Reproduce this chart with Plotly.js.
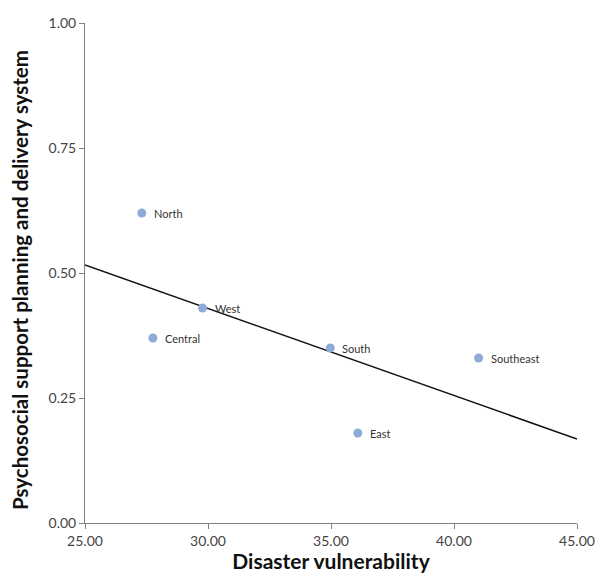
<!DOCTYPE html>
<html>
<head>
<meta charset="utf-8">
<script src="https://cdn.plot.ly/plotly-3.0.1.min.js"></script>
<style>html,body{margin:0;padding:0;background:#fff;}#chart{width:597px;height:573px;}</style>
</head>
<body>
<div id="chart"></div>
<script>
// Data
var regions = ["North", "West", "Central", "South", "Southeast", "East"];
var vulnerability = [27.31, 29.78, 27.76, 34.97, 41.00, 36.09];
var psychosocial = [0.62, 0.43, 0.37, 0.35, 0.33, 0.18];
// Linear trend line endpoints
var trendX = [25, 45];
var trendY = [0.516, 0.168];

var xTickVals = [25, 30, 35, 40, 45];
var xTickText = ["25.00", "30.00", "35.00", "40.00", "45.00"];
var yTickVals = [0, 0.25, 0.5, 0.75, 1];
var yTickText = ["0.00", "0.25", "0.50", "0.75", "1.00"];
var xTitle = "Disaster vulnerability";
var yTitle = "Psychosocial support planning and delivery system";

var points = {
  x: vulnerability, y: psychosocial, mode: "markers", type: "scatter",
  marker: {color: "#8eabd8", size: 9},
  hoverinfo: "skip", cliponaxis: false
};
var trend = {
  x: trendX, y: trendY, mode: "lines", type: "scatter",
  line: {color: "#111111", width: 1.5},
  hoverinfo: "skip"
};

var annotations = regions.map(function (r, i) {
  return {
    x: vulnerability[i], y: psychosocial[i], xref: "x", yref: "y",
    text: r, showarrow: false, xanchor: "left", yanchor: "middle",
    xshift: 10, font: {family: "Lato, 'Open Sans', sans-serif", size: 11, color: "#333333"}
  };
});
annotations.push({
  xref: "paper", yref: "paper", x: 0, y: 0.5, xanchor: "center", yanchor: "middle",
  xshift: -65, yshift: -7, textangle: -90, showarrow: false, text: yTitle,
  font: {family: "Lato, 'Open Sans', sans-serif", size: 20.5, color: "#111111", weight: "bold"}
});

var layout = {
  width: 597, height: 573,
  margin: {l: 85, r: 20, t: 23, b: 50},
  paper_bgcolor: "#ffffff", plot_bgcolor: "#ffffff",
  showlegend: false,
  font: {family: "Lato, 'Open Sans', sans-serif", color: "#444444"},
  xaxis: {
    range: [25, 45], tickvals: xTickVals, ticktext: xTickText,
    showgrid: false, zeroline: false, showline: true, linecolor: "#7f7f7f", linewidth: 1,
    ticks: "outside", ticklen: 5, tickcolor: "#7f7f7f",
    tickfont: {size: 14, color: "#444444"},
    title: {text: xTitle, standoff: 8,
            font: {family: "Lato, 'Open Sans', sans-serif", size: 21, color: "#111111", weight: "bold"}}
  },
  yaxis: {
    range: [0, 1], tickvals: yTickVals, ticktext: yTickText,
    showgrid: false, zeroline: false, showline: true, linecolor: "#7f7f7f", linewidth: 1,
    ticks: "outside", ticklen: 5, tickcolor: "#7f7f7f",
    tickfont: {size: 14, color: "#444444"}
  },
  annotations: annotations
};

Plotly.newPlot("chart", [trend, points], layout, {displayModeBar: false, staticPlot: true});
</script>
</body>
</html>
